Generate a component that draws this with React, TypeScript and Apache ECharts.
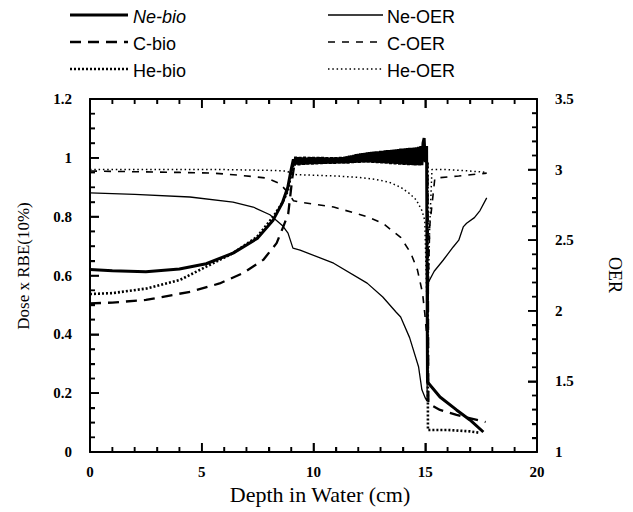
import React, { useEffect, useRef } from "react";
import * as echarts from "echarts";

// ---- data (depth in cm, value) ----
const seriesNames = ["Ne-bio", "C-bio", "He-bio", "Ne-OER", "C-OER", "He-OER"];

const neBio: number[][] = [
  [0, 0.62], [1, 0.616], [2.5, 0.613], [4, 0.622], [5.2, 0.64], [6.4, 0.676], [7.5, 0.727],
  [8.2, 0.789], [8.6, 0.846], [8.85, 0.9], [9.0, 0.96],
  [9.1, 0.995], [9.15, 0.974], [9.2, 1.004], [9.25, 0.977], [9.3, 1.002], [9.35, 0.975],
  [9.4, 1.003], [9.45, 0.978], [9.5, 1.001], [9.55, 0.976], [9.6, 1.004], [9.65, 0.978],
  [9.7, 1.0], [9.75, 0.977], [9.8, 1.003], [9.85, 0.979], [9.9, 1.002], [9.95, 0.977],
  [10.0, 1.003], [10.05, 0.979], [10.1, 1.001], [10.15, 0.978], [10.2, 1.003], [10.25, 0.98],
  [10.3, 1.002], [10.35, 0.979], [10.4, 1.003], [10.45, 0.98], [10.5, 1.001], [10.55, 0.98],
  [10.6, 1.002], [10.65, 0.981], [10.7, 1.0], [10.75, 0.98], [10.8, 1.002], [10.85, 0.981],
  [10.9, 1.001], [10.95, 0.98], [11.0, 1.002], [11.05, 0.982], [11.1, 1.001], [11.15, 0.981],
  [11.2, 1.003], [11.25, 0.982], [11.3, 1.002], [11.35, 0.981], [11.4, 1.004], [11.45, 0.982],
  [11.5, 1.005], [11.55, 0.981], [11.6, 1.007], [11.65, 0.983], [11.7, 1.008], [11.75, 0.982],
  [11.8, 1.01], [11.85, 0.983], [11.9, 1.012], [11.95, 0.984], [12.0, 1.013], [12.05, 0.983],
  [12.1, 1.015], [12.15, 0.985], [12.2, 1.016], [12.25, 0.984], [12.3, 1.017], [12.35, 0.985],
  [12.4, 1.018], [12.45, 0.984], [12.5, 1.019], [12.55, 0.985], [12.6, 1.02], [12.65, 0.983],
  [12.7, 1.021], [12.75, 0.984], [12.8, 1.022], [12.85, 0.982], [12.9, 1.022], [12.95, 0.983],
  [13.0, 1.024], [13.05, 0.981], [13.1, 1.024], [13.15, 0.982], [13.2, 1.025], [13.25, 0.98],
  [13.3, 1.026], [13.35, 0.981], [13.4, 1.026], [13.45, 0.979], [13.5, 1.027], [13.55, 0.98],
  [13.6, 1.028], [13.65, 0.978], [13.7, 1.029], [13.75, 0.979], [13.8, 1.03], [13.85, 0.977],
  [13.9, 1.031], [13.95, 0.978], [14.0, 1.031], [14.05, 0.976], [14.1, 1.032], [14.15, 0.977],
  [14.2, 1.033], [14.25, 0.975], [14.3, 1.034], [14.35, 0.976], [14.4, 1.034], [14.45, 0.975],
  [14.5, 1.035], [14.55, 0.974], [14.6, 1.036], [14.65, 0.975], [14.7, 1.037], [14.75, 0.974],
  [14.8, 1.04], [14.85, 0.975], [14.9, 1.05], [14.95, 1.067], [15.0, 0.985], [15.06, 1.04],
  [15.1, 0.238], [15.66, 0.187], [16.4, 0.143], [17.0, 0.109], [17.6, 0.068],
];

const cBio: number[][] = [
  [0, 0.505], [1, 0.508], [2.5, 0.517], [4.5, 0.545], [5.8, 0.573], [6.85, 0.608],
  [7.75, 0.653], [8.35, 0.71], [8.65, 0.766], [8.87, 0.81], [9.05, 0.93], [9.15, 0.98],
  [12, 0.99], [15.0, 0.995], [15.1, 0.98], [15.14, 0.165], [15.66, 0.143], [16.4, 0.126],
  [17.7, 0.102],
];

const heBio: number[][] = [
  [0, 0.537], [1, 0.54], [2.54, 0.556], [4.03, 0.585], [5.2, 0.63], [6.4, 0.676],
  [7.47, 0.731], [8.2, 0.8], [8.63, 0.85], [8.86, 0.89], [9.05, 0.965], [9.15, 0.985],
  [12, 0.99], [15.0, 0.995], [15.1, 0.99], [15.12, 0.075], [16, 0.075], [17, 0.07],
  [17.45, 0.065],
];

const neOer: number[][] = [
  [0, 2.835], [2, 2.825], [4.47, 2.806], [6.4, 2.77], [7.3, 2.735], [8.05, 2.68],
  [8.63, 2.6], [8.86, 2.55], [9.08, 2.444], [9.4, 2.43], [10.9, 2.337], [12.4, 2.196],
  [13.1, 2.098], [13.7, 1.99], [13.9, 1.956], [14.3, 1.81], [14.7, 1.604], [14.85, 1.44],
  [15.0, 1.383], [15.08, 1.36], [15.12, 2.196], [15.4, 2.28], [15.8, 2.358], [16.25, 2.452],
  [16.5, 2.5], [16.7, 2.594], [16.85, 2.62], [17.2, 2.66], [17.45, 2.71], [17.75, 2.8],
];

const cOer: number[][] = [
  [0, 2.99], [2, 2.985], [4, 2.98], [5.5, 2.975], [6.7, 2.96], [7.9, 2.94], [8.5, 2.9],
  [8.9, 2.83], [9.1, 2.78], [9.4, 2.77], [10.9, 2.735], [12.4, 2.667], [13.1, 2.62],
  [13.9, 2.52], [14.35, 2.41], [14.65, 2.29], [14.88, 2.125], [14.98, 1.98], [15.08, 1.8],
  [15.2, 2.6], [15.43, 2.94], [16.5, 2.955], [17.75, 2.975],
];

const heOer: number[][] = [
  [0, 3.0], [2, 3.0], [4, 3.0], [6, 3.0], [8, 2.995], [8.8, 2.99], [9.1, 2.965], [10, 2.96],
  [11, 2.955], [12, 2.945], [12.8, 2.93], [13.4, 2.91], [13.9, 2.875], [14.3, 2.83],
  [14.6, 2.785], [14.85, 2.71], [14.98, 2.64], [15.05, 2.2], [15.1, 1.9], [15.2, 2.6],
  [15.3, 3.0], [16, 3.0], [17, 2.99], [17.75, 2.98],
];

// ---- tick values (major + minor) ----
const depthTicks = [0, 1, 2, 3, 4, 5, 6, 7, 8, 9, 10, 11, 12, 13, 14, 15, 16, 17, 18, 19, 20];
const doseTicks = [
  0, 0.05, 0.1, 0.15, 0.2, 0.25, 0.3, 0.35, 0.4, 0.45, 0.5, 0.55, 0.6, 0.65, 0.7, 0.75, 0.8,
  0.85, 0.9, 0.95, 1.0, 1.05, 1.1, 1.15, 1.2,
];
const oerTicks = [
  1, 1.1, 1.2, 1.3, 1.4, 1.5, 1.6, 1.7, 1.8, 1.9, 2, 2.1, 2.2, 2.3, 2.4, 2.5, 2.6, 2.7, 2.8,
  2.9, 3, 3.1, 3.2, 3.3, 3.4, 3.5,
];

const styles: Record<string, { width: number; dash: number[] | "solid" }> = {
  "Ne-bio": { width: 3, dash: "solid" },
  "C-bio": { width: 2.3, dash: [11, 7] },
  "He-bio": { width: 2.6, dash: [2, 2] },
  "Ne-OER": { width: 1.3, dash: "solid" },
  "C-OER": { width: 1.6, dash: [7, 7] },
  "He-OER": { width: 1.5, dash: [1.5, 2.8] },
};

const serif = "Liberation Serif, serif";
const sans = "Liberation Sans, Arial, sans-serif";

const isMajor = (v: number, step: number) => Math.abs(v / step - Math.round(v / step)) < 1e-6;

export default function App() {
  const ref = useRef<HTMLDivElement>(null);
  useEffect(() => {
    if (!ref.current) return;
    const chart = echarts.init(ref.current, undefined, { renderer: "svg" });

    const mkSeries = (name: string, data: number[][], yAxisIndex: number) => ({
      name,
      type: "line",
      data,
      yAxisIndex,
      showSymbol: false,
      symbol: "none",
      lineStyle: { color: "#000", width: styles[name].width, type: styles[name].dash },
    });

    const labelStyle = { color: "#000", fontFamily: serif, fontWeight: "bold", fontSize: 15 };
    const lineS = { color: "#000", width: 2 };
    const tickS = (split: number) => ({
      axisTick: { show: true, inside: true, length: 9, lineStyle: { color: "#000", width: 1.6 } },
      minorTick: { show: true, splitNumber: split, length: 5, lineStyle: { color: "#000", width: 1.4 } },
      splitLine: { show: false },
    });

    const curveSeries = [
      mkSeries(seriesNames[3], neOer, 1),
      mkSeries(seriesNames[4], cOer, 1),
      mkSeries(seriesNames[5], heOer, 1),
      mkSeries(seriesNames[1], cBio, 0),
      mkSeries(seriesNames[2], heBio, 0),
      mkSeries(seriesNames[0], neBio, 0),
    ];

    chart.setOption({
      animation: false,
      grid: { left: 90, right: 96, top: 99, bottom: 60 },
      xAxis: [
        {
          type: "value",
          position: "bottom",
          min: 0,
          max: 20,
          interval: 5,
          axisLine: { show: true, onZero: false, lineStyle: lineS },
          ...tickS(5),
          axisLabel: { ...labelStyle, margin: 12 },
        },
        {
          type: "value",
          position: "top",
          min: 0,
          max: 20,
          interval: 5,
          axisLine: { show: true, onZero: false, lineStyle: lineS },
          ...tickS(5),
          axisLabel: { show: false },
        },
      ],
      yAxis: [
        {
          type: "value",
          position: "left",
          min: 0,
          max: 1.2,
          interval: 0.2,
          axisLine: { show: true, onZero: false, lineStyle: lineS },
          ...tickS(4),
          axisLabel: { ...labelStyle, margin: 18 },
        },
        {
          type: "value",
          position: "right",
          min: 1,
          max: 3.5,
          interval: 0.5,
          axisLine: { show: true, onZero: false, lineStyle: lineS },
          ...tickS(5),
          axisLabel: { ...labelStyle, margin: 18 },
        },
      ],
      series: curveSeries,
    });

    // ---- tick marks as line segments on the axes' own scales ----
    const pxX = (v: number) => chart.convertToPixel({ xAxisIndex: 0 }, v) as any as number;
    const pyL = (v: number) => chart.convertToPixel({ yAxisIndex: 0 }, v) as any as number;
    const fromPxX = (p: number) => chart.convertFromPixel({ xAxisIndex: 0 }, p) as any as number;
    const fromPyL = (p: number) => chart.convertFromPixel({ yAxisIndex: 0 }, p) as any as number;
    const lenY = (px: number) => fromPyL(pyL(0) - px) - 0;
    const lenX = (px: number) => fromPxX(pxX(0) + px) - 0;
    const yMaj = lenY(9), yMin = lenY(5), xMaj = lenX(9), xMin = lenX(5);

    const xTickData: any[] = [];
    depthTicks.forEach((v) => {
      const l = isMajor(v, 5) ? yMaj : yMin;
      xTickData.push([v, 0], [v, l], [v, "-"], [v, 1.2], [v, 1.2 - l], [v, "-"]);
    });
    const leftTickData: any[] = [];
    doseTicks.forEach((v) => {
      leftTickData.push([0, v], [isMajor(v, 0.2) ? xMaj : xMin, v], [0, "-"]);
    });
    const rightTickData: any[] = [];
    oerTicks.forEach((v) => {
      rightTickData.push([20, v], [20 - (isMajor(v, 0.5) ? xMaj : xMin), v], [20, "-"]);
    });
    const tickSeries = (data: any[], yAxisIndex: number) => ({
      type: "line",
      data,
      yAxisIndex,
      silent: true,
      symbol: "none",
      showSymbol: false,
      connectNulls: false,
      clip: false,
      z: 5,
      lineStyle: { color: "#000", width: 1.6 },
    });

    // ---- legend + titles ----
    const g: any[] = [];
    const legendRows = [
      { left: "Ne-bio", right: "Ne-OER", y: 15 },
      { left: "C-bio", right: "C-OER", y: 42 },
      { left: "He-bio", right: "He-OER", y: 69 },
    ];
    legendRows.forEach((r) => {
      [
        { name: r.left, x1: 70, x2: 128, tx: 133 },
        { name: r.right, x1: 328, x2: 383, tx: 387 },
      ].forEach((c) => {
        const s = styles[c.name];
        const st: any = { stroke: "#000", lineWidth: s.width };
        if (s.dash !== "solid") st.lineDash = s.dash;
        g.push({ type: "line", shape: { x1: c.x1, y1: r.y, x2: c.x2, y2: r.y }, style: st });
        g.push({
          type: "text",
          x: c.tx,
          y: r.y + 2,
          style: {
            text: c.name,
            font: `${c.name === "Ne-bio" ? "italic " : ""}18px ${sans}`,
            fill: "#000",
            textAlign: "left",
            textVerticalAlign: "middle",
          },
        });
      });
    });
    g.push(
      {
        type: "text",
        x: 320,
        y: 494,
        style: {
          text: "Depth in Water (cm)",
          font: `22px ${serif}`,
          fill: "#000",
          textAlign: "center",
          textVerticalAlign: "middle",
        },
      },
      {
        type: "text",
        x: 23,
        y: 266,
        rotation: Math.PI / 2,
        style: {
          text: "Dose x RBE(10%)",
          font: `17px ${serif}`,
          fill: "#000",
          textAlign: "center",
          textVerticalAlign: "middle",
        },
      },
      {
        type: "text",
        x: 615,
        y: 275,
        rotation: -Math.PI / 2,
        style: {
          text: "OER",
          font: `18px ${serif}`,
          fill: "#000",
          textAlign: "center",
          textVerticalAlign: "middle",
        },
      }
    );

    chart.setOption({
      graphic: g,
      series: [
        ...curveSeries,
        tickSeries(xTickData, 0),
        tickSeries(leftTickData, 0),
        tickSeries(rightTickData, 1),
      ],
    });
    return () => chart.dispose();
  }, []);

  return (
    <div
      ref={ref}
      style={{ position: "fixed", left: 0, top: 0, width: 633, height: 512, background: "#fff" }}
    />
  );
}
